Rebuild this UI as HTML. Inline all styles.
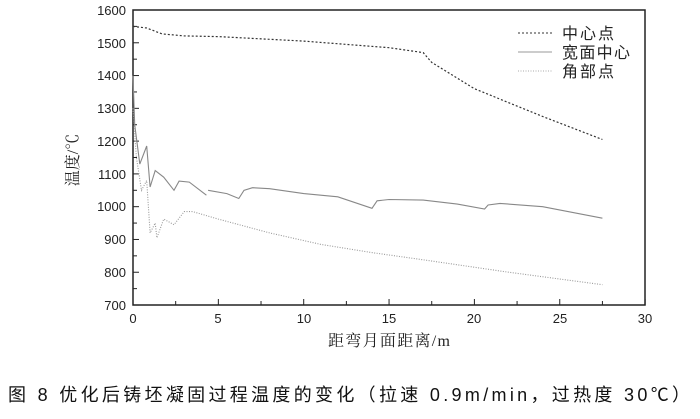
<!DOCTYPE html>
<html><head><meta charset="utf-8"><style>
body{margin:0;width:700px;height:414px;background:#fff;overflow:hidden;font-family:"Liberation Sans","Noto Sans CJK SC",sans-serif}
</style></head><body>
<svg id="s" width="700" height="414" xmlns="http://www.w3.org/2000/svg" font-family="Liberation Sans, Noto Sans CJK SC, sans-serif">
<rect x="133" y="10" width="512" height="295" fill="none" stroke="#222" stroke-width="1.5"/>
<g font-size="13" fill="#222" text-anchor="end">
<text x="126" y="15">1600</text><text x="126" y="48">1500</text><text x="126" y="80">1400</text><text x="126" y="113">1300</text><text x="126" y="146">1200</text><text x="126" y="179">1100</text><text x="126" y="211">1000</text><text x="126" y="244">900</text><text x="126" y="277">800</text><text x="126" y="310">700</text>
</g>
<g font-size="13" fill="#222" text-anchor="middle">
<text x="133" y="323">0</text><text x="218" y="323">5</text><text x="304" y="323">10</text><text x="389" y="323">15</text><text x="474" y="323">20</text><text x="560" y="323">25</text><text x="645" y="323">30</text>
</g>
<g id="ticks" stroke="#222" stroke-width="1"></g>
<text x="328" y="346" font-size="16" fill="#222" textLength="122" lengthAdjust="spacing" font-family="Liberation Serif, Noto Serif CJK SC, serif">距弯月面距离/m</text>
<text transform="translate(78,160) rotate(-90)" font-size="16" text-anchor="middle" fill="#222" font-family="Liberation Serif, Noto Serif CJK SC, serif">温度/℃</text>
<g id="lines" fill="none"></g>
<line x1="518" y1="33" x2="552" y2="33" stroke="#333" stroke-dasharray="2,2"/>
<line x1="518" y1="52" x2="552" y2="52" stroke="#999"/>
<line x1="518" y1="71" x2="552" y2="71" stroke="#aaa" stroke-dasharray="1,1.5"/>
<g font-size="16" fill="#222" font-family="Noto Sans CJK SC, sans-serif">
<text x="562" y="39" textLength="52" lengthAdjust="spacing">中心点</text><text x="562" y="58" textLength="68" lengthAdjust="spacing">宽面中心</text><text x="562" y="77" textLength="52" lengthAdjust="spacing">角部点</text>
</g>
<text x="8" y="401" font-size="18" fill="#111" textLength="682" lengthAdjust="spacing" font-family="Liberation Sans, Noto Sans CJK SC, sans-serif">图 8 优化后铸坯凝固过程温度的变化（拉速 0.9m/min，过热度 30℃）</text>
</svg>
<script>
var X=m=>133+17.07*m,Y=t=>10+(1600-t)*0.3278;
var t=document.getElementById('ticks'),h='';
for(var m=0;m<=30;m+=2.5){var l=(m%5==0)?6:4;h+=`<line x1="${X(m)}" y1="305" x2="${X(m)}" y2="${305-l}"/>`;}
for(var v=700;v<=1600;v+=50){var l=(v%100==0)?6:4;h+=`<line x1="133" y1="${Y(v)}" x2="${133+l}" y2="${Y(v)}"/>`;}
t.innerHTML=h;
function p(a){return a.map((q,i)=>(i?'L':'M')+X(q[0]).toFixed(1)+','+Y(q[1]).toFixed(1)).join(' ');}
var c=[[0,1550],[0.8,1545],[1.7,1527],[3,1521],[5,1519],[10,1505],[15,1485],[17,1470],[17.5,1440],[20,1360],[24,1275],[27.5,1205]];
var w1=[[0,1400],[0.1,1250],[0.4,1130],[0.8,1185],[1.0,1060],[1.3,1110],[1.8,1090],[2.4,1050],[2.7,1078],[3.3,1075],[4.3,1035]];
var w2=[[4.4,1050],[5.5,1040],[6.2,1025],[6.5,1050],[7,1058],[8,1055],[10,1040],[12,1030],[14,995],[14.3,1018],[15,1022],[17,1020],[19,1008],[20.6,993],[20.8,1005],[21.5,1010],[24,1000],[27.5,965]];
var k=[[0,1300],[0.2,1150],[0.5,1050],[0.8,1080],[1.0,920],[1.3,950],[1.4,905],[1.8,962],[2.4,945],[3,985],[3.5,985],[5,962],[8,920],[11,885],[14,860],[17,838],[22,800],[27.5,762]];
document.getElementById('lines').innerHTML=
`<path d="${p(c)}" stroke="#333" stroke-width="1.2" stroke-dasharray="2,2"/>`+
`<path d="${p(w1)}" stroke="#888" stroke-width="1.1"/><path d="${p(w2)}" stroke="#888" stroke-width="1.1"/>`+
`<path d="${p(k)}" stroke="#999" stroke-width="1.1" stroke-dasharray="1,1.5"/>`;
</script>
</body></html>
